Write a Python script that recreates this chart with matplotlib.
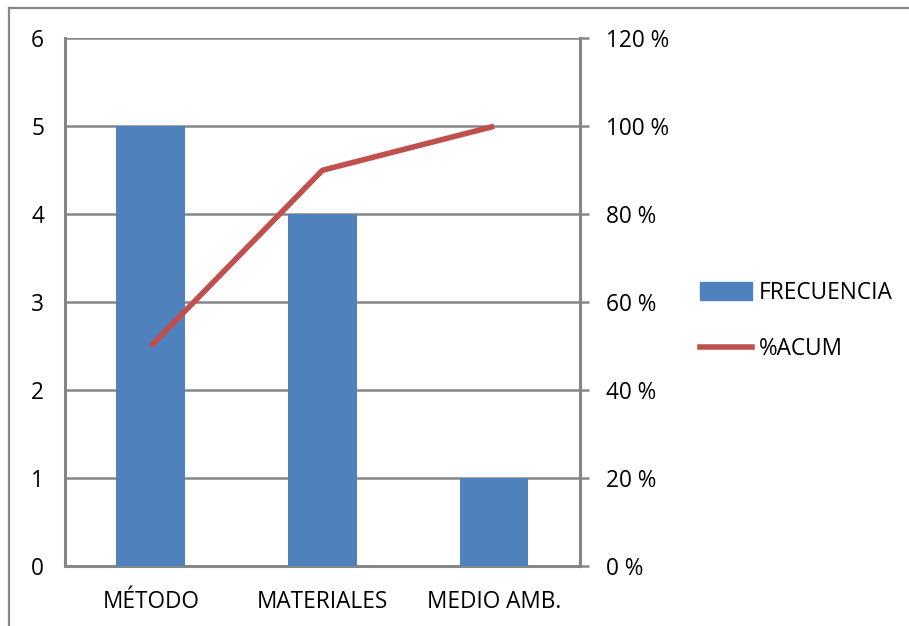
import matplotlib.pyplot as plt
from matplotlib.lines import Line2D
from matplotlib.patches import Patch

categorias = ["MÉTODO", "MATERIALES", "MEDIO AMB."]
frecuencia = [5, 4, 1]
acumulado = [50, 90, 100]  # porcentaje acumulado
ticks_izq = [0, 1, 2, 3, 4, 5, 6]
ticks_der = [0, 20, 40, 60, 80, 100, 120]

plt.rcParams['font.family'] = ['Open Sans', 'DejaVu Sans']
plt.rcParams['font.size'] = 16.3

gris = '#868686'
azul = '#4F81BD'
rojo = '#C0504D'

fig = plt.figure(figsize=(9.09, 6.26), dpi=100)
ax = fig.add_axes([0.0715, 0.0958, 0.5665, 0.843])
ax2 = ax.twinx()

x = range(len(categorias))
ax.bar(x, frecuencia, width=0.4, color=azul, zorder=3)
ax.set_xlim(-0.5, 2.5)
ax.set_ylim(0, 6)
ax.set_yticks(ticks_izq)
ax.set_xticks(list(x))
ax.set_xticklabels(categorias)
ax.yaxis.grid(True, color=gris, lw=1.8, zorder=0)
ax.tick_params(axis='y', length=0, pad=15)
ax.tick_params(axis='x', length=0, pad=17)

ax2.plot(list(x), acumulado, color=rojo, lw=4, solid_capstyle='butt', zorder=4)
ax2.set_ylim(0, 120)
ax2.set_yticks(ticks_der)
ax2.set_yticklabels([f"{v} %" for v in ticks_der])
ax2.tick_params(axis='y', length=6.5, width=1.8, color=gris, pad=12)

for a in (ax, ax2):
    a.spines['top'].set_visible(False)
    for s in ('left', 'right', 'bottom'):
        a.spines[s].set_color(gris)
        a.spines[s].set_linewidth(2.2)
ax.spines['right'].set_visible(False)
ax2.spines['left'].set_visible(False)
ax2.spines['bottom'].set_visible(False)

handles = [Patch(color=azul), Line2D([], [], color=rojo, lw=4)]
fig.legend(handles, ["FRECUENCIA", "%ACUM"], loc='center left',
           bbox_to_anchor=(0.770, 0.487), frameon=False,
           borderpad=0, borderaxespad=0,
           handlelength=2.3, handleheight=0.85, handletextpad=0.3,
           labelspacing=1.4, fontsize=16.3)

# marco del gráfico
fig.add_artist(Line2D([0.0099, 0.0099], [0, 0.987], color=gris, lw=1.6))
fig.add_artist(Line2D([0.0099, 1], [0.987, 0.987], color=gris, lw=1.6))

fig.savefig("out.png", dpi=100)
